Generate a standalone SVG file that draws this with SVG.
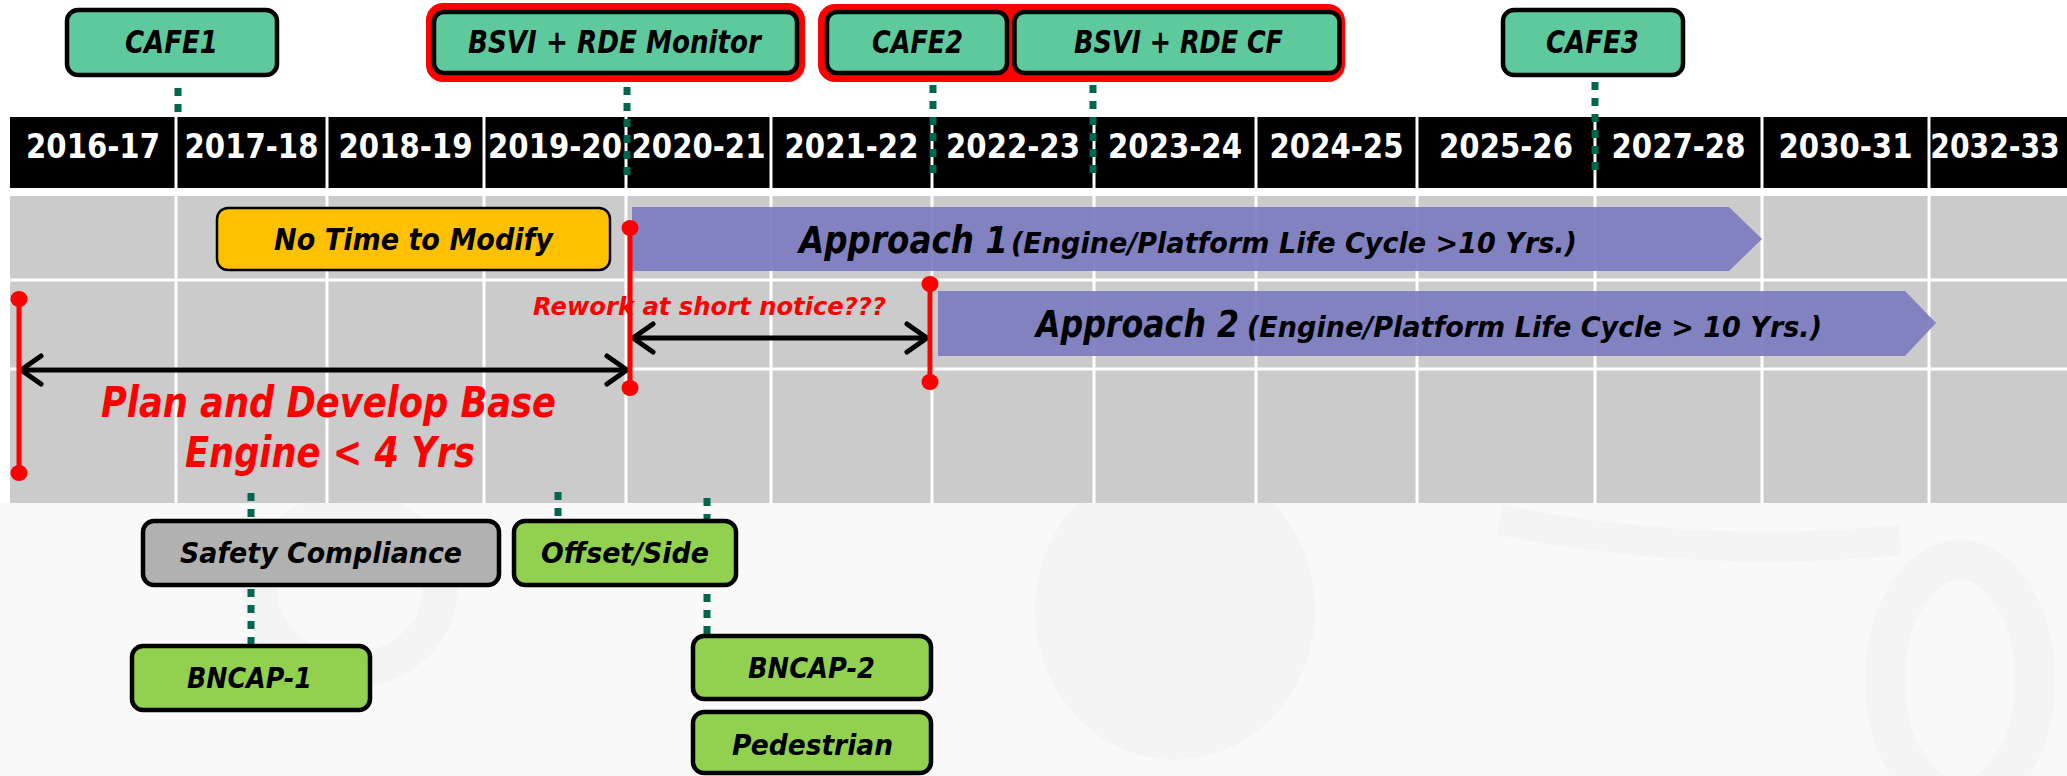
<svg xmlns="http://www.w3.org/2000/svg" width="2067" height="776" viewBox="0 0 2067 776">
  <style>
    .hdr { font-family: "DejaVu Sans", "Liberation Sans", sans-serif; font-weight: bold; font-size: 34px; fill: #ffffff; text-anchor: middle; }
    .lbl { font-family: "DejaVu Sans", "Liberation Sans", sans-serif; font-weight: bold; font-style: oblique; fill: #000000; }
    .red { font-family: "DejaVu Sans", "Liberation Sans", sans-serif; font-weight: bold; font-style: oblique; fill: #ff0000; }
    .mint { fill: #5fc99e; stroke: #000; stroke-width: 4.5; }
    .lime { fill: #92d050; stroke: #000; stroke-width: 4.5; }
    .grey { fill: #b1b1b1; stroke: #000; stroke-width: 4.5; }
    .frame { fill: #ff0000; stroke: #ff0000; stroke-width: 6; }
    .dot { stroke: #00664f; stroke-width: 7; stroke-dasharray: 8 8; fill: none; }
    .gridline { stroke: #ffffff; stroke-width: 3; }
    .marker { stroke: #ff0000; stroke-width: 5; }
    .span { stroke: #000; stroke-width: 5; fill: none; marker-start: url(#chev); marker-end: url(#chev); }
    .bar { fill: #7c7cc0; fill-opacity: 0.92; }
  </style>
  <defs>
    <marker id="chev" markerUnits="userSpaceOnUse" markerWidth="40" markerHeight="40" viewBox="-30 -20 40 40" refX="0" refY="0" orient="auto-start-reverse" overflow="visible">
      <path d="M-20,-14 L0,0 L-20,14" fill="none" stroke="#000" stroke-width="5" stroke-linecap="round" stroke-linejoin="round"/>
    </marker>
  </defs>

  <!-- page background with faint car watermark -->
  <rect x="0" y="0" width="2067" height="776" fill="#ffffff"/>
  <g id="watermark" fill="none" stroke="#f4f4f4">
    <rect x="0" y="503" width="2067" height="273" fill="#f9f9f9" stroke="none"/>
    <ellipse cx="1175" cy="610" rx="140" ry="150" fill="#f4f4f4" stroke="none"/>
    <ellipse cx="1960" cy="680" rx="75" ry="120" stroke-width="40"/>
    <ellipse cx="350" cy="590" rx="90" ry="80" stroke-width="35"/>
    <path d="M1500 520 Q1700 560 1900 540" stroke-width="30"/>
  </g>

  <!-- year header -->
  <g id="header">
    <rect x="10" y="117" width="2057" height="71" fill="#000"/>
    <g class="gridline">
      <line x1="176" y1="117" x2="176" y2="188"/>
      <line x1="327" y1="117" x2="327" y2="188"/>
      <line x1="484" y1="117" x2="484" y2="188"/>
      <line x1="626" y1="117" x2="626" y2="188"/>
      <line x1="771" y1="117" x2="771" y2="188"/>
      <line x1="932" y1="117" x2="932" y2="188"/>
      <line x1="1094" y1="117" x2="1094" y2="188"/>
      <line x1="1256" y1="117" x2="1256" y2="188"/>
      <line x1="1417" y1="117" x2="1417" y2="188"/>
      <line x1="1595" y1="117" x2="1595" y2="188"/>
      <line x1="1762" y1="117" x2="1762" y2="188"/>
      <line x1="1929" y1="117" x2="1929" y2="188"/>
    </g>
    <text class="hdr" x="93" y="158" textLength="134" lengthAdjust="spacingAndGlyphs">2016-17</text>
    <text class="hdr" x="251.5" y="158" textLength="134" lengthAdjust="spacingAndGlyphs">2017-18</text>
    <text class="hdr" x="405.5" y="158" textLength="134" lengthAdjust="spacingAndGlyphs">2018-19</text>
    <text class="hdr" x="555" y="158" textLength="134" lengthAdjust="spacingAndGlyphs">2019-20</text>
    <text class="hdr" x="698.5" y="158" textLength="134" lengthAdjust="spacingAndGlyphs">2020-21</text>
    <text class="hdr" x="851.5" y="158" textLength="134" lengthAdjust="spacingAndGlyphs">2021-22</text>
    <text class="hdr" x="1013" y="158" textLength="134" lengthAdjust="spacingAndGlyphs">2022-23</text>
    <text class="hdr" x="1175" y="158" textLength="134" lengthAdjust="spacingAndGlyphs">2023-24</text>
    <text class="hdr" x="1336.5" y="158" textLength="134" lengthAdjust="spacingAndGlyphs">2024-25</text>
    <text class="hdr" x="1506" y="158" textLength="134" lengthAdjust="spacingAndGlyphs">2025-26</text>
    <text class="hdr" x="1678.5" y="158" textLength="134" lengthAdjust="spacingAndGlyphs">2027-28</text>
    <text class="hdr" x="1845.5" y="158" textLength="134" lengthAdjust="spacingAndGlyphs">2030-31</text>
    <text class="hdr" transform="translate(1995 158) scale(0.83 1)">2032-33</text>
  </g>

  <!-- timeline grid -->
  <g id="grid">
    <rect x="10" y="196" width="2057" height="307" fill="#cbcbcb"/>
    <g class="gridline">
      <line x1="10" y1="280" x2="2067" y2="280"/>
      <line x1="10" y1="369" x2="2067" y2="369"/>
      <line x1="176" y1="196" x2="176" y2="503"/>
      <line x1="327" y1="196" x2="327" y2="503"/>
      <line x1="484" y1="196" x2="484" y2="503"/>
      <line x1="626" y1="196" x2="626" y2="503"/>
      <line x1="771" y1="196" x2="771" y2="503"/>
      <line x1="932" y1="196" x2="932" y2="503"/>
      <line x1="1094" y1="196" x2="1094" y2="503"/>
      <line x1="1256" y1="196" x2="1256" y2="503"/>
      <line x1="1417" y1="196" x2="1417" y2="503"/>
      <line x1="1595" y1="196" x2="1595" y2="503"/>
      <line x1="1762" y1="196" x2="1762" y2="503"/>
      <line x1="1929" y1="196" x2="1929" y2="503"/>
    </g>
  </g>

  <!-- dotted leader lines -->
  <g id="connectors" class="dot">
    <line x1="178" y1="88" x2="178" y2="113"/>
    <line x1="627" y1="87" x2="627" y2="176"/>
    <line x1="933" y1="85" x2="933" y2="176"/>
    <line x1="1093" y1="85" x2="1093" y2="176"/>
    <line x1="1595" y1="82" x2="1595" y2="178"/>
    <line x1="251" y1="493" x2="251" y2="644"/>
    <line x1="558" y1="492" x2="558" y2="517"/>
    <line x1="707" y1="498" x2="707" y2="634"/>
  </g>

  <!-- approach bars -->
  <g id="approach1">
    <polygon class="bar" points="632,207 1729,207 1762,239 1729,271 632,271"/>
    <text class="lbl" x="799" y="253" font-size="37" textLength="209" lengthAdjust="spacingAndGlyphs">Approach 1</text>
    <text class="lbl" x="1011" y="253" font-size="29" textLength="566" lengthAdjust="spacingAndGlyphs">(Engine/Platform Life Cycle &gt;10 Yrs.)</text>
  </g>
  <g id="approach2">
    <polygon class="bar" points="938,291 1905,291 1936,323 1905,356 938,356"/>
    <text class="lbl" x="1036" y="337" font-size="37" textLength="203" lengthAdjust="spacingAndGlyphs">Approach 2</text>
    <text class="lbl" x="1247" y="337" font-size="29" textLength="575" lengthAdjust="spacingAndGlyphs">(Engine/Platform Life Cycle &gt; 10 Yrs.)</text>
  </g>

  <g id="no-time">
    <rect x="217" y="208" width="393" height="62" rx="11" fill="#ffc000" stroke="#000" stroke-width="2.5"/>
    <text class="lbl" x="274" y="250" font-size="31" textLength="279" lengthAdjust="spacingAndGlyphs">No Time to Modify</text>
  </g>

  <!-- spans and milestones -->
  <g id="spans">
    <text class="red" x="533" y="315" font-size="25" textLength="353" lengthAdjust="spacingAndGlyphs">Rework at short notice???</text>
    <text class="red" x="101" y="417" font-size="43" textLength="455" lengthAdjust="spacingAndGlyphs">Plan and Develop Base</text>
    <text class="red" x="185" y="467" font-size="43" textLength="290" lengthAdjust="spacingAndGlyphs">Engine &lt; 4 Yrs</text>
    <line class="span" x1="21" y1="370" x2="627" y2="370"/>
    <line class="span" x1="633" y1="338" x2="927" y2="338"/>
    <g class="marker">
      <line x1="19" y1="299" x2="19" y2="473"/>
      <line x1="630" y1="228" x2="630" y2="388"/>
      <line x1="930" y1="284" x2="930" y2="382"/>
    </g>
    <g fill="#ff0000">
      <ellipse cx="19" cy="299" rx="8.5" ry="8"/>
      <ellipse cx="19" cy="473" rx="8.5" ry="8"/>
      <ellipse cx="630" cy="228" rx="8.5" ry="8"/>
      <ellipse cx="630" cy="388" rx="8.5" ry="8"/>
      <ellipse cx="930" cy="284" rx="8.5" ry="8"/>
      <ellipse cx="930" cy="382" rx="8.5" ry="8"/>
    </g>
  </g>

  <!-- regulation milestones above the timeline -->
  <g id="cafe1">
    <rect class="mint" x="67" y="10" width="210" height="65" rx="11"/>
    <text class="lbl" x="125" y="53" font-size="32" textLength="93" lengthAdjust="spacingAndGlyphs">CAFE1</text>
  </g>
  <g id="bsvi-monitor">
    <rect class="frame" x="429" y="6" width="373" height="73" rx="14"/>
    <rect class="mint" x="434" y="12" width="363" height="61" rx="10"/>
    <text class="lbl" x="468" y="53" font-size="32" textLength="293" lengthAdjust="spacingAndGlyphs">BSVI + RDE Monitor</text>
  </g>
  <g id="cafe2-bsvi-cf">
    <rect class="frame" x="821" y="7" width="521" height="72" rx="14"/>
    <g id="cafe2">
      <rect class="mint" x="827" y="12" width="180" height="61" rx="10"/>
      <text class="lbl" x="872" y="53" font-size="32" textLength="91" lengthAdjust="spacingAndGlyphs">CAFE2</text>
    </g>
    <g id="bsvi-cf">
      <rect class="mint" x="1014.5" y="12" width="325" height="61" rx="10"/>
      <text class="lbl" x="1074" y="53" font-size="32" textLength="209" lengthAdjust="spacingAndGlyphs">BSVI + RDE CF</text>
    </g>
  </g>
  <g id="cafe3">
    <rect class="mint" x="1503" y="10" width="180" height="65" rx="11"/>
    <text class="lbl" x="1546" y="53" font-size="32" textLength="93" lengthAdjust="spacingAndGlyphs">CAFE3</text>
  </g>

  <!-- safety milestones below the timeline -->
  <g id="safety">
    <rect class="grey" x="143" y="521" width="356" height="64" rx="11"/>
    <text class="lbl" x="180" y="563" font-size="28" textLength="282" lengthAdjust="spacingAndGlyphs">Safety Compliance</text>
  </g>
  <g id="offset-side">
    <rect class="lime" x="514" y="521" width="222" height="64" rx="11"/>
    <text class="lbl" x="541" y="563" font-size="28" textLength="168" lengthAdjust="spacingAndGlyphs">Offset/Side</text>
  </g>
  <g id="bncap1">
    <rect class="lime" x="132" y="646" width="238" height="64" rx="11"/>
    <text class="lbl" x="187" y="688" font-size="28" textLength="125" lengthAdjust="spacingAndGlyphs">BNCAP-1</text>
  </g>
  <g id="bncap2">
    <rect class="lime" x="693" y="636" width="238" height="63" rx="11"/>
    <text class="lbl" x="748" y="678" font-size="28" textLength="127" lengthAdjust="spacingAndGlyphs">BNCAP-2</text>
  </g>
  <g id="pedestrian">
    <rect class="lime" x="693" y="712" width="238" height="61" rx="11"/>
    <text class="lbl" x="732" y="755" font-size="28" textLength="161" lengthAdjust="spacingAndGlyphs">Pedestrian</text>
  </g>
</svg>
